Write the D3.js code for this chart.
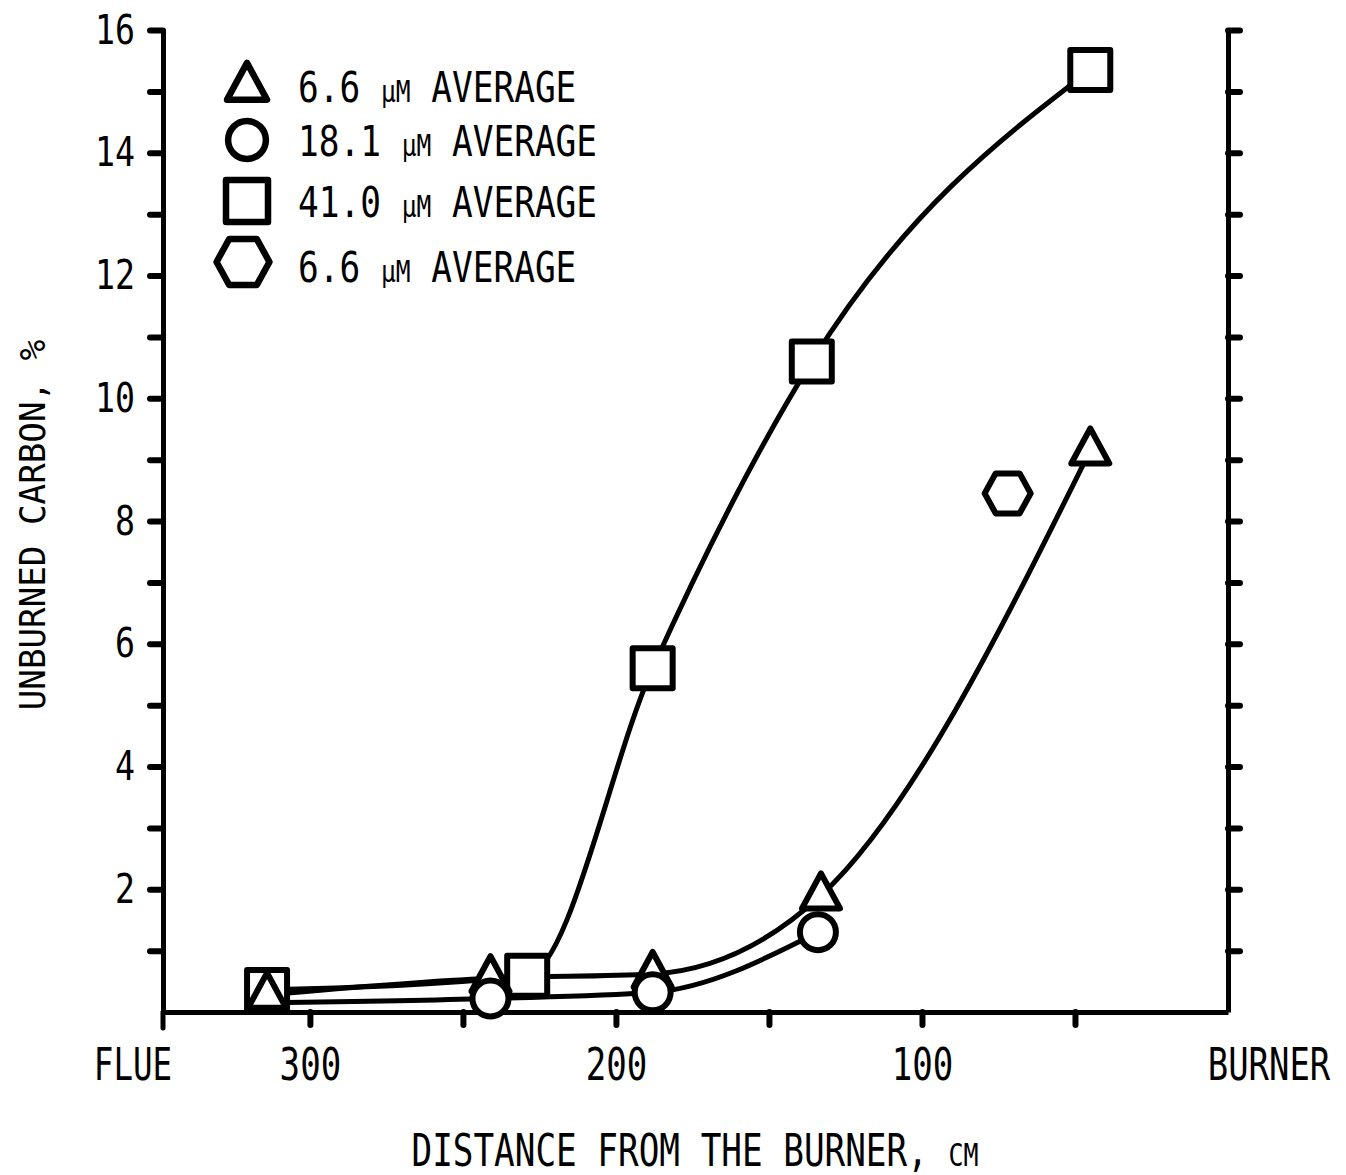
<!DOCTYPE html>
<html>
<head>
<meta charset="utf-8">
<script src="https://cdn.jsdelivr.net/npm/d3@7"></script>
<style>
  body { margin: 0; background: #fff; }
  svg { display: block; }
  text { font-family: "DejaVu Sans Mono", monospace; fill: #000; }
</style>
</head>
<body>
<svg id="chart" width="1346" height="1175"></svg>
<script>
// distance from burner (cm) and unburned carbon (%)
const dist41 = [314, 229, 188, 136, 45];
const carbon41 = [0.36, 0.59, 5.6, 10.6, 15.35];

const dist66 = [314, 241, 188, 133, 45];
const carbon66 = [0.28, 0.55, 0.62, 1.9, 9.15];

const dist18 = [241, 188, 134];
const carbon18 = [0.22, 0.32, 1.3];
// the 18.1 curve is drawn from the same starting point as the others
const start18 = [314, 0.15];

const distHex = [72];
const carbonHex = [8.45];

const yTicks = d3.range(1, 17);
const xTicks = [300, 250, 200, 150, 100, 50];

const legendLabels = [
    ["6.6 ", "μM", " AVERAGE"],
    ["18.1 ", "μM", " AVERAGE"],
    ["41.0 ", "μM", " AVERAGE"],
    ["6.6 ", "μM", " AVERAGE"]
];

const svg = d3.select("#chart");

const x = d3.scaleLinear().domain([348, 0]).range([163, 1228]);
const y = d3.scaleLinear().domain([0, 16]).range([1012, 30]);

const axisStroke = 5;

// squeeze the mono font sideways so it looks like the narrow typewriter lettering
function narrow(sel, sx) {
    sel.each(function () {
        const t = d3.select(this);
        const x0 = +(t.attr("x") || 0);
        const y0 = +(t.attr("y") || 0);
        const base = t.attr("transform") || "";
        t.attr("x", null).attr("y", null)
            .attr("transform", `${base} translate(${x0},${y0}) scale(${sx},1)`);
    });
}

function styleAxis(g) {
    g.select(".domain").attr("stroke", "#000").attr("stroke-width", axisStroke);
    g.selectAll(".tick line").attr("stroke", "#000").attr("stroke-width", 6).attr("stroke-linecap", "round");
}

// left axis
const leftAxis = svg.append("g")
    .attr("transform", `translate(${x.range()[0]},0)`)
    .call(d3.axisLeft(y).tickValues(yTicks).tickSize(13).tickSizeOuter(0).tickPadding(15)
        .tickFormat(d => d % 2 === 0 ? d : ""));
styleAxis(leftAxis);
leftAxis.selectAll("text").attr("font-size", 41).attr("font-family", "DejaVu Sans Mono").call(narrow, 0.81);

// little extension of the left axis below the bottom one
svg.append("line")
    .attr("x1", x.range()[0]).attr("x2", x.range()[0])
    .attr("y1", y(0)).attr("y2", y(0) + 16)
    .attr("stroke", "#000").attr("stroke-width", axisStroke).attr("stroke-linecap", "round");

// right axis
const rightAxis = svg.append("g")
    .attr("transform", `translate(${x.range()[1]},0)`)
    .call(d3.axisRight(y).tickValues(yTicks).tickSize(12).tickSizeOuter(0).tickFormat(""));
styleAxis(rightAxis);

// bottom axis
const bottomAxis = svg.append("g")
    .attr("transform", `translate(0,${y(0)})`)
    .call(d3.axisBottom(x).tickValues(xTicks).tickSize(13).tickSizeOuter(0).tickPadding(24)
        .tickFormat(d => d % 100 === 0 ? d : ""));
styleAxis(bottomAxis);
bottomAxis.selectAll("text").attr("font-size", 44).attr("font-family", "DejaVu Sans Mono").call(narrow, 0.775);

svg.append("text")
    .attr("x", 133).attr("y", 1080)
    .attr("text-anchor", "middle").attr("font-size", 44)
    .text("FLUE").call(narrow, 0.74);

svg.append("text")
    .attr("x", 1269).attr("y", 1080)
    .attr("text-anchor", "middle").attr("font-size", 44)
    .text("BURNER").call(narrow, 0.77);

// axis titles
const xTitle = svg.append("text")
    .attr("x", 695).attr("y", 1166)
    .attr("text-anchor", "middle").attr("font-size", 44);
xTitle.append("tspan").text("DISTANCE FROM THE BURNER, ");
xTitle.append("tspan").attr("font-size", 32).text("CM");
xTitle.call(narrow, 0.78);

svg.append("text")
    .attr("transform", "translate(45,525) rotate(-90)")
    .attr("text-anchor", "middle").attr("font-size", 36)
    .text("UNBURNED CARBON, %").call(narrow, 0.95);

// curves
const line = d3.line()
    .x(d => x(d[0]))
    .y(d => y(d[1]))
    .curve(d3.curveMonotoneX);

const curves = [
    d3.zip(dist41, carbon41),
    d3.zip(dist66, carbon66),
    [start18].concat(d3.zip(dist18, carbon18))
];

svg.append("g")
    .selectAll("path")
    .data(curves)
    .join("path")
    .attr("d", line)
    .attr("fill", "none")
    .attr("stroke", "#000")
    .attr("stroke-width", 5)
    .attr("stroke-linecap", "round");

// marker shapes
const shapes = {
    triangle: s => `M0,${-22 * s}L${19 * s},${13 * s}L${-19 * s},${13 * s}Z`,
    circle: s => d3.symbol(d3.symbolCircle, Math.PI * (18 * s) ** 2)(),
    square: s => `M${-20 * s},${-20 * s}H${20 * s}V${20 * s}H${-20 * s}Z`,
    hexagon: s => `M${-23 * s},0L${-12 * s},${-20 * s}H${12 * s}L${23 * s},0L${12 * s},${20 * s}H${-12 * s}Z`
};

function drawMarkers(dists, values, shape) {
    svg.append("g")
        .selectAll("path")
        .data(d3.zip(dists, values))
        .join("path")
        .attr("transform", d => `translate(${x(d[0])},${y(d[1])})`)
        .attr("d", shapes[shape](1))
        .attr("fill", "#fff")
        .attr("stroke", "#000")
        .attr("stroke-width", 6)
        .attr("stroke-linejoin", "round");
}

drawMarkers(dist41, carbon41, "square");
drawMarkers(dist66, carbon66, "triangle");
drawMarkers(dist18, carbon18, "circle");
drawMarkers(distHex, carbonHex, "hexagon");

// legend
const legendShapes = ["triangle", "circle", "square", "hexagon"];
const legendRows = [86, 140, 201, 266];
const legendScale = [1.05, 1.05, 1.05, 1.15];

const legend = svg.append("g");
legendShapes.forEach((shape, i) => {
    legend.append("path")
        .attr("transform", `translate(${shape === "hexagon" ? 243 : 247},${legendRows[i] - (shape === "hexagon" ? 4 : 0)})`)
        .attr("d", shapes[shape](legendScale[i]))
        .attr("fill", "#fff")
        .attr("stroke", "#000")
        .attr("stroke-width", 6.5)
        .attr("stroke-linejoin", "round");

    const t = legend.append("text")
        .attr("x", 298)
        .attr("y", legendRows[i] + 16)
        .attr("font-size", 42);
    t.append("tspan").text(legendLabels[i][0]);
    t.append("tspan").attr("font-size", 30).text(legendLabels[i][1]);
    t.append("tspan").text(legendLabels[i][2]);
    t.call(narrow, 0.82);
});
</script>
</body>
</html>
